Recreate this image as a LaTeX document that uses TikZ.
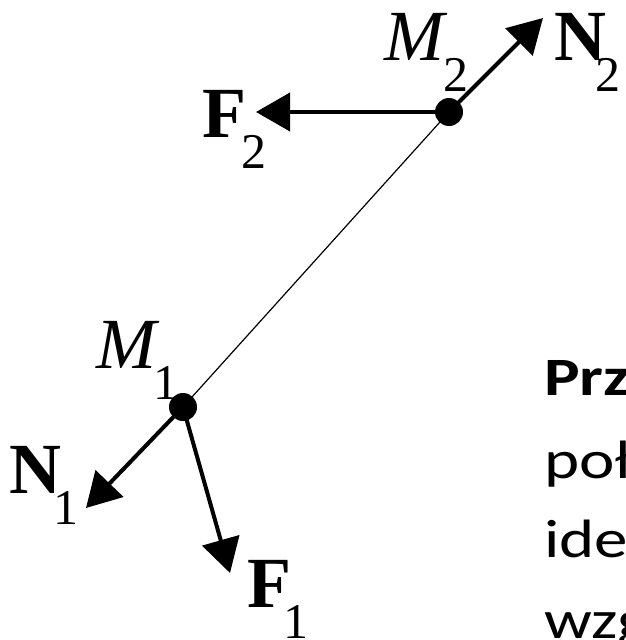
\documentclass[tikz,border=0pt]{standalone}
\usepackage{fontspec}
\setmainfont{Liberation Serif}
\newfontfamily\calib{Carlito}
\usepackage{tikz}
\usetikzlibrary{arrows.meta}
\newcommand{\sublbl}[3]{#1\kern#3pt\raisebox{-31pt}{\fontsize{50}{50}\selectfont #2}}
\newcommand{\wide}[1]{\scalebox{1.24}[1]{#1}}

\begin{document}
\begin{tikzpicture}[x=1pt,y=-1pt,
		force/.style={line width=4pt,-{Triangle[length=34pt,width=38pt]}},
		mass/.style={circle,fill,inner sep=0pt,minimum size=28pt},
		lbl/.style={anchor=base west,inner sep=0pt,font=\fontsize{72}{72}\selectfont},
		txt/.style={anchor=base west,inner sep=0pt,font=\calib\fontsize{54}{54}\selectfont}]
		\useasboundingbox (0,0) rectangle (626,640);
		\clip (0,0) rectangle (626,640);
		\node[mass] (M1) at (183,407) {};
		\node[mass] (M2) at (449,112) {};
		\draw[line width=1.2pt] (M1.center) -- (M2.center);
		\coordinate (F2end) at (256,112);
		\coordinate (N2end) at (543,18);
		\coordinate (N1end) at (86,508);
		\coordinate (F1end) at (230,573);
		\draw[force] (M2.center) -- (F2end);
		\draw[force] (M2.center) -- (N2end);
		\draw[force] (M1.center) -- (N1end);
		\draw[force] (M1.center) -- (F1end);
		\node[lbl] (M2lbl) at (384,60) {\sublbl{\textit{M}}{2}{-4}};
		\node[lbl] (N2lbl) at (554,60) {\sublbl{\textbf{N}}{2}{-11}};
		\node[lbl] (F2lbl) at (202,137) {\sublbl{\textbf{F}}{2}{-5}};
		\node[lbl] (M1lbl) at (96,368) {\sublbl{\textit{M}}{1}{-6}};
		\node[lbl] (N1lbl) at (9,493) {\sublbl{\textbf{N}}{1}{-8}};
		\node[lbl] (F1lbl) at (247,607) {\sublbl{\textbf{F}}{1}{-8}};
		\node[txt] (line1) at (544,395) {\wide{\textbf{Przykład}}};
		\node[txt] (line2) at (544,478) {\wide{połączone}};
		\node[txt] (line3) at (544,557) {\wide{idealnym}};
		\node[txt] (line4) at (544,638) {\wide{względem}};
\end{tikzpicture}
\end{document}
